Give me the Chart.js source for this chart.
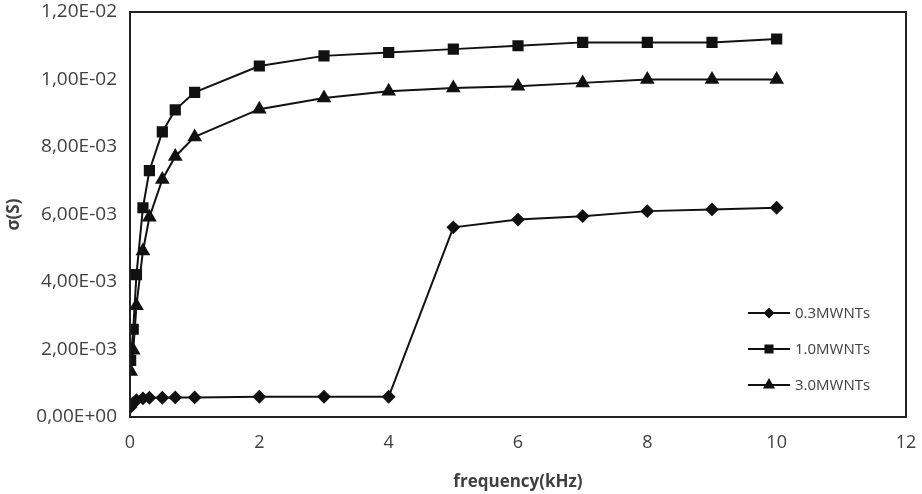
<!DOCTYPE html>
<html>
<head>
<meta charset="utf-8">
<script src="https://cdn.jsdelivr.net/npm/chart.js@4/dist/chart.umd.min.js"></script>
<style>
  html, body { margin: 0; padding: 0; background: #fff; }
  #wrap { width: 922px; height: 494px; }
</style>
</head>
<body>
<div id="wrap"><canvas id="myChart"></canvas></div>
<script>
// frequency in kHz, conductivity in S
const freq = [0.01, 0.05, 0.1, 0.2, 0.3, 0.5, 0.7, 1, 2, 3, 4, 5, 6, 7, 8, 9, 10];
const mwnt03 = [0.30e-3, 0.42e-3, 0.50e-3, 0.55e-3, 0.57e-3, 0.57e-3, 0.58e-3, 0.58e-3, 0.60e-3, 0.60e-3, 0.60e-3, 5.62e-3, 5.85e-3, 5.95e-3, 6.10e-3, 6.15e-3, 6.20e-3];
const mwnt10 = [1.68e-3, 2.60e-3, 4.22e-3, 6.20e-3, 7.30e-3, 8.45e-3, 9.10e-3, 9.62e-3, 10.40e-3, 10.70e-3, 10.80e-3, 10.90e-3, 11.00e-3, 11.10e-3, 11.10e-3, 11.10e-3, 11.20e-3];
const mwnt30 = [1.35e-3, 1.98e-3, 3.30e-3, 4.92e-3, 5.92e-3, 7.04e-3, 7.72e-3, 8.30e-3, 9.12e-3, 9.45e-3, 9.65e-3, 9.75e-3, 9.80e-3, 9.90e-3, 10.00e-3, 10.00e-3, 10.00e-3];
const seriesNames = ["0.3MWNTs", "1.0MWNTs", "3.0MWNTs"];

const pts = (ys) => ys.map((y, i) => ({ x: freq[i], y: y }));

// 1.2e-2 -> "1,20E-02"
function sciComma(v) {
  const [m, e] = v.toExponential(2).split("e");
  const sign = e[0] === "-" ? "-" : "+";
  const ex = e.replace(/[+-]/, "").padStart(2, "0");
  return m.replace(".", ",") + "E" + sign + ex;
}

const ink = "#111";
const lineSet = (label, data, style, r) => ({
  label: label,
  data: pts(data),
  showLine: true,
  borderColor: ink,
  backgroundColor: ink,
  borderWidth: 2,
  tension: 0,
  pointStyle: style,
  pointRadius: r,
  pointHoverRadius: r,
});

// frame around the plot area
const boxPlugin = {
  id: "box",
  afterDraw(chart) {
    const a = chart.chartArea;
    const ctx = chart.ctx;
    ctx.save();
    ctx.strokeStyle = "#222";
    ctx.lineWidth = 2;
    ctx.strokeRect(a.left, a.top, a.right - a.left, a.bottom - a.top);
    ctx.restore();
  },
};

// legend inside the bottom-right corner
const innerLegend = {
  id: "innerLegend",
  afterDraw(chart) {
    const a = chart.chartArea;
    const ctx = chart.ctx;
    const rows = [a.bottom - 104, a.bottom - 68, a.bottom - 32];
    ctx.save();
    chart.data.datasets.forEach((ds, i) => {
      const y = rows[i];
      const x0 = 748, x1 = 790;
      ctx.strokeStyle = ink;
      ctx.lineWidth = 2;
      ctx.beginPath();
      ctx.moveTo(x0, y);
      ctx.lineTo(x1, y);
      ctx.stroke();
      ctx.fillStyle = ink;
      Chart.helpers.drawPoint(ctx, { pointStyle: ds.pointStyle, radius: ds.pointRadius - 1.5, borderWidth: 1 }, (x0 + x1) / 2, y);
      ctx.fillStyle = "#404040";
      ctx.font = "15px 'Open Sans'";
      ctx.textBaseline = "middle";
      ctx.textAlign = "left";
      ctx.fillText(ds.label, 795, y + 1);
    });
    ctx.restore();
  },
};

const chartOne = document.getElementById("myChart").getContext("2d");
const sigmaChart = new Chart(chartOne, {
  type: "scatter",
  data: {
    datasets: [
      lineSet(seriesNames[0], mwnt03, "rectRot", 5.5),
      lineSet(seriesNames[1], mwnt10, "rect", 6.5),
      lineSet(seriesNames[2], mwnt30, "triangle", 6.5),
    ],
  },
  options: {
    responsive: true,
    maintainAspectRatio: false,
    animation: false,
    layout: { padding: { top: 12, right: 16, left: 0, bottom: 0 } },
    plugins: {
      legend: { display: false },
      tooltip: { enabled: false },
    },
    scales: {
      x: {
        type: "linear",
        min: 0,
        max: 12,
        ticks: {
          stepSize: 2,
          padding: 15,
          color: "#404040",
          font: { family: "'Open Sans'", size: 18 },
        },
        grid: { display: false, drawTicks: false },
        border: { display: false },
        title: {
          display: true,
          text: "frequency(kHz)",
          color: "#404040",
          font: { family: "'Open Sans'", size: 17, weight: "bold" },
          padding: { top: 4, bottom: 2 },
        },
        afterFit(scale) {
          scale.height = 77;
          scale.paddingLeft = 0;
          scale.paddingRight = 0;
        },
      },
      y: {
        min: 0,
        max: 0.012,
        ticks: {
          stepSize: 0.002,
          padding: 13,
          color: "#404040",
          font: { family: "'Open Sans'", size: 19 },
          callback: (v) => sciComma(v),
        },
        grid: { display: false, drawTicks: false },
        border: { display: false },
        title: {
          display: true,
          text: "σ(S)",
          color: "#404040",
          font: { family: "'Open Sans'", size: 17, weight: "bold" },
          padding: { top: 4, bottom: 4 },
        },
        afterFit(scale) {
          scale.width = 130;
          scale.paddingTop = 0;
          scale.paddingBottom = 0;
        },
      },
    },
  },
  plugins: [boxPlugin, innerLegend],
});
</script>
</body>
</html>
